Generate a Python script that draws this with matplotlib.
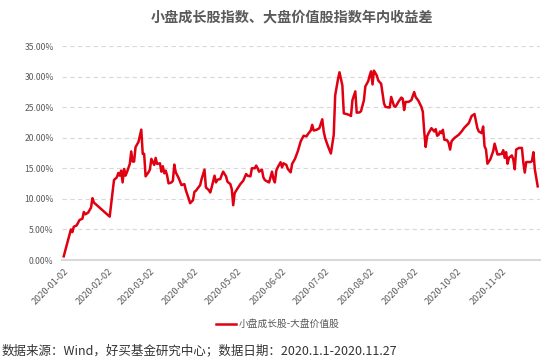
import matplotlib
matplotlib.use("Agg")
import matplotlib.pyplot as plt
import matplotlib.dates as mdates
import matplotlib.ticker as mticker
import pandas as pd

plt.rcParams['font.family'] = ['Noto Sans CJK SC', 'DejaVu Sans']

title = "小盘成长股指数、大盘价值股指数年内收益差"
series_name = "小盘成长股-大盘价值股"
footer = "数据来源：Wind，好买基金研究中心；数据日期：2020.1.1-2020.11.27"

dates = [
    "2020-01-02", "2020-01-07", "2020-01-08", "2020-01-09", "2020-01-11", "2020-01-13",
    "2020-01-15", "2020-01-16", "2020-01-17", "2020-01-19", "2020-01-21", "2020-01-22",
    "2020-01-23", "2020-02-03", "2020-02-06", "2020-02-08", "2020-02-09", "2020-02-10",
    "2020-02-11", "2020-02-12", "2020-02-13", "2020-02-14", "2020-02-15", "2020-02-17",
    "2020-02-18", "2020-02-19", "2020-02-20", "2020-02-21", "2020-02-23", "2020-02-25",
    "2020-02-26", "2020-02-27", "2020-02-28", "2020-03-01", "2020-03-02", "2020-03-03",
    "2020-03-05", "2020-03-06", "2020-03-07", "2020-03-09", "2020-03-10", "2020-03-11",
    "2020-03-12", "2020-03-13", "2020-03-14", "2020-03-15", "2020-03-17", "2020-03-18",
    "2020-03-19", "2020-03-20", "2020-03-22", "2020-03-24", "2020-03-26", "2020-03-27",
    "2020-03-29", "2020-03-30", "2020-04-01", "2020-04-02", "2020-04-03", "2020-04-06",
    "2020-04-07", "2020-04-09", "2020-04-10", "2020-04-12", "2020-04-13", "2020-04-14",
    "2020-04-16", "2020-04-17", "2020-04-18", "2020-04-20", "2020-04-21", "2020-04-22",
    "2020-04-24", "2020-04-25", "2020-04-27", "2020-04-28", "2020-04-29", "2020-04-30",
    "2020-05-02", "2020-05-04", "2020-05-06", "2020-05-08", "2020-05-09", "2020-05-11",
    "2020-05-12", "2020-05-14", "2020-05-15", "2020-05-16", "2020-05-17", "2020-05-19",
    "2020-05-20", "2020-05-21", "2020-05-23", "2020-05-24", "2020-05-26", "2020-05-27",
    "2020-05-28", "2020-05-29", "2020-05-30", "2020-06-01", "2020-06-02", "2020-06-03",
    "2020-06-05", "2020-06-06", "2020-06-08", "2020-06-09", "2020-06-11", "2020-06-13",
    "2020-06-15", "2020-06-17", "2020-06-19", "2020-06-20", "2020-06-22", "2020-06-23",
    "2020-06-24", "2020-06-26", "2020-06-28", "2020-06-30", "2020-07-01", "2020-07-02",
    "2020-07-04", "2020-07-06", "2020-07-08", "2020-07-09", "2020-07-11", "2020-07-12",
    "2020-07-14", "2020-07-15", "2020-07-17", "2020-07-19", "2020-07-20", "2020-07-21",
    "2020-07-23", "2020-07-24", "2020-07-26", "2020-07-27", "2020-07-29", "2020-07-30",
    "2020-08-01", "2020-08-02", "2020-08-03", "2020-08-04", "2020-08-05", "2020-08-07",
    "2020-08-08", "2020-08-09", "2020-08-10", "2020-08-12", "2020-08-13", "2020-08-15",
    "2020-08-16", "2020-08-17", "2020-08-19", "2020-08-20", "2020-08-22", "2020-08-24",
    "2020-08-25", "2020-08-26", "2020-08-27", "2020-08-29", "2020-08-31", "2020-09-02",
    "2020-09-03", "2020-09-05", "2020-09-07", "2020-09-08", "2020-09-09", "2020-09-10",
    "2020-09-11", "2020-09-12", "2020-09-14", "2020-09-15", "2020-09-16", "2020-09-17",
    "2020-09-18", "2020-09-19", "2020-09-20", "2020-09-21", "2020-09-22", "2020-09-23",
    "2020-09-25", "2020-09-26", "2020-09-27", "2020-09-28", "2020-09-30", "2020-10-03",
    "2020-10-05", "2020-10-07", "2020-10-10", "2020-10-12", "2020-10-14", "2020-10-16",
    "2020-10-17", "2020-10-19", "2020-10-20", "2020-10-21", "2020-10-22", "2020-10-23",
    "2020-10-25", "2020-10-27", "2020-10-28", "2020-10-30", "2020-10-31", "2020-11-02",
    "2020-11-03", "2020-11-04", "2020-11-05", "2020-11-06", "2020-11-07", "2020-11-09",
    "2020-11-10", "2020-11-11", "2020-11-12", "2020-11-14", "2020-11-16", "2020-11-17",
    "2020-11-18", "2020-11-19", "2020-11-22", "2020-11-23", "2020-11-24", "2020-11-25",
    "2020-11-27",
]

spread_pct = [
    0.60, 5.00, 4.56, 5.44, 5.66, 6.54,
    6.76, 7.86, 7.47, 7.75, 8.57, 10.11,
    9.40, 7.09, 13.08, 13.52, 14.23, 13.79,
    14.62, 12.69, 14.89, 13.79, 14.34, 15.71,
    17.75, 16.10, 16.10, 18.46, 19.29, 21.32,
    17.36, 17.36, 13.68, 14.34, 14.78, 16.54,
    15.55, 16.70, 15.71, 15.82, 14.45, 15.33,
    14.18, 14.62, 13.79, 12.53, 12.69, 12.97,
    15.60, 14.34, 13.41, 12.25, 12.42, 11.43,
    10.05, 9.29, 9.78, 11.15, 11.32, 12.25,
    13.24, 14.78, 11.87, 11.43, 11.04, 11.87,
    13.79, 12.69, 13.13, 13.24, 13.90, 14.45,
    13.68, 12.80, 12.42, 11.59, 8.96, 10.93,
    11.70, 12.42, 12.97, 14.07, 13.79, 13.68,
    15.00, 15.00, 15.44, 15.00, 14.45, 14.78,
    13.52, 13.08, 12.80, 12.69, 14.45, 13.24,
    12.69, 14.62, 15.16, 15.99, 15.16, 15.82,
    15.55, 14.89, 14.34, 15.71, 16.54, 17.80,
    19.41, 20.32, 20.22, 20.59, 21.18, 22.10,
    21.18, 21.29, 21.56, 23.01, 21.02, 19.95,
    18.60, 17.42, 20.48, 26.94, 29.62, 30.70,
    28.55, 23.98, 23.87, 23.71, 23.55, 26.13,
    27.58, 24.09, 24.14, 24.35, 26.13, 28.39,
    29.25, 30.16, 30.86, 28.71, 30.97, 30.16,
    29.35, 29.09, 28.82, 25.59, 25.05, 24.95,
    24.95, 26.67, 25.16, 25.05, 25.86, 26.56,
    26.40, 24.52, 25.86, 25.86, 26.13, 27.47,
    26.67, 26.02, 25.05, 24.25, 21.02, 18.49,
    20.22, 20.75, 21.56, 21.29, 21.02, 21.40,
    20.32, 20.48, 21.02, 20.75, 21.29, 19.68,
    19.57, 19.14, 18.06, 19.41, 19.95, 20.48,
    21.02, 21.67, 22.37, 23.55, 23.87, 21.56,
    21.02, 20.75, 21.83, 18.60, 18.06, 15.75,
    16.45, 17.80, 19.03, 17.26, 17.26, 17.37,
    17.96, 16.72, 17.63, 15.75, 16.72, 17.10,
    16.45, 14.84, 18.06, 18.33, 18.33, 15.91,
    14.30, 16.02, 16.02, 16.18, 17.63, 14.84,
    12.04,
]

tick_dates = ["2020-01-02", "2020-02-02", "2020-03-02", "2020-04-02", "2020-05-02",
              "2020-06-02", "2020-07-02", "2020-08-02", "2020-09-02", "2020-10-02",
              "2020-11-02"]
y_ticks = [0, 5, 10, 15, 20, 25, 30, 35]

x = pd.to_datetime(dates)

W, H = 554, 362
fig = plt.figure(figsize=(W / 100, H / 100), dpi=100)
fig.patch.set_facecolor('white')
ax = fig.add_axes([62 / W, 1 - 260 / H, (540 - 62) / W, (260 - 46) / H])

line, = ax.plot(x, spread_pct, color='#E00012', lw=1.8, solid_joinstyle='round',
                label=series_name, zorder=3)

ax.set_ylim(0, 35)
ax.set_xlim(pd.Timestamp("2020-01-02") - pd.Timedelta(days=1.2),
            pd.Timestamp("2020-11-27") + pd.Timedelta(days=1.6))
ax.set_yticks(y_ticks)
ax.yaxis.set_major_formatter(mticker.FuncFormatter(lambda v, p: f"{v:.2f}%"))
ax.set_xticks(pd.to_datetime(tick_dates))
ax.xaxis.set_major_formatter(mdates.DateFormatter('%Y-%m-%d'))

for s in ['top', 'right', 'left']:
    ax.spines[s].set_visible(False)
ax.spines['bottom'].set_color('#d9d9d9')
ax.spines['bottom'].set_linewidth(1.5)

ax.grid(axis='y', color='#d9d9d9', linestyle=(0, (4, 3)), linewidth=0.8, zorder=0)
ax.grid(axis='x', visible=False)
ax.set_axisbelow(True)
ax.tick_params(axis='y', length=0, labelsize=6.2, labelcolor='#595959', pad=6)
ax.tick_params(axis='x', length=0, labelsize=6.5, labelcolor='#595959', pad=5)
for lab in ax.get_xticklabels():
    lab.set_rotation(45)
    lab.set_ha('right')
    lab.set_rotation_mode('anchor')

fig.text(292 / W, 1 - 17 / H, title, ha='center', va='center', fontsize=10.2,
         color='#595959', fontweight='bold')

fig.legend(handles=[line], loc='center', bbox_to_anchor=(278 / W, 1 - 324 / H),
           frameon=False, fontsize=7, handlelength=2.0, handletextpad=0.3,
           labelcolor='#595959')

fig.text(2 / W, 1 - 351 / H, footer, ha='left', va='center', fontsize=9, color='#333333')

fig.savefig('out.png', dpi=100, facecolor='white')
